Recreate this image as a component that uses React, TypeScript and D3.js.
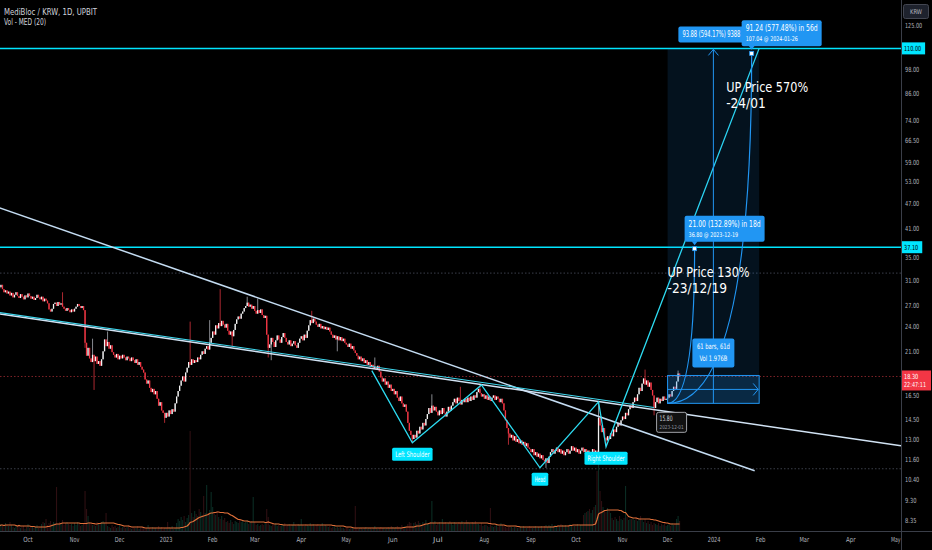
import React from 'react';
import * as d3 from 'd3';

// ---------------- DATA ----------------
const START_DATE = '2022-09-12';
const FIRST_OPEN = 29.6;

const CLOSES: number[] = [
  29.8, 30.2, 29.5, 29.0, 29.3, 28.8, 29.1,
  28.5, 28.9, 28.2, 28.6, 29.0, 28.4, 28.1, 28.7, 28.3, 27.9, 28.5, 28.2, 28.8, 28.4, 28.0, 28.3, 27.8, 28.1, 28.6, 28.2,
  27.9, 28.3, 27.6, 28.0, 27.7, 27.3, 26.4, 26.1, 26.5, 27.2, 27.4, 26.9, 27.5, 27.1,
  27.3, 26.8, 26.5, 26.2, 26.6, 26.3, 26.0, 26.4, 26.1, 26.5, 26.8, 27.2, 26.9, 26.6, 26.9, 26.3,
  22.0,
  20.5, 21.4, 20.2, 19.8, 20.6, 19.9, 20.4, 19.6,
  19.9, 19.4, 20.1,
  21.0, 22.4, 21.6, 22.1, 21.3, 21.7, 20.9, 20.6,
  20.3, 20.7, 20.1, 20.5, 20.2, 20.6, 20.3, 20.0, 20.4, 20.2, 19.9, 20.3, 20.0,
  19.7, 20.1, 19.5, 19.8, 19.3, 19.0, 18.7,
  18.0, 17.6, 17.9, 17.2,
  16.8, 17.1, 16.6, 16.9, 16.2,
  15.6, 15.9, 15.2, 15.0,
  14.6, 15.0, 14.7, 15.2, 14.9, 15.3, 15.1,
  15.8, 16.4, 16.9, 17.4,
  17.9, 18.3, 17.8, 18.7, 19.2,
  19.8, 19.5, 20.1, 19.7,
  20.0, 19.8, 20.3, 20.1, 20.6,
  21.0, 20.7, 21.3, 21.6, 21.2, 22.0,
  22.6, 23.4, 23.0, 24.2, 23.8,
  24.5, 24.1, 24.8, 24.3, 23.9, 24.4,
  23.5, 23.0, 23.4, 22.8,
  23.6, 24.4, 25.0, 25.4, 25.1, 25.8, 26.1,
  26.6, 26.9, 27.4, 26.8, 27.1, 26.5, 26.9,
  26.2, 25.8, 26.3, 25.9, 26.4, 25.6, 25.2, 25.5,
  23.0, 21.4, 21.8,
  22.6, 22.1, 21.5, 22.3, 22.9, 22.4, 22.0, 22.7, 23.2,
  22.6, 22.1, 21.8, 22.3, 21.6, 21.9, 22.2, 21.7, 21.4, 22.0, 22.5,
  22.8, 22.3, 23.0, 22.6, 23.5,
  24.2, 24.9, 24.5, 25.1, 24.7, 24.3,
  24.0, 24.4, 23.8, 24.1, 23.7, 24.0, 23.6, 23.9, 23.4,
  23.0, 22.6, 22.9, 22.4, 22.8, 22.3, 22.7, 22.2, 22.5, 22.0, 21.8,
  21.5, 21.9, 21.3, 21.6, 21.1, 20.8, 20.5,
  20.1, 20.4, 19.9, 20.2, 19.7, 20.0, 19.5, 19.8, 19.3, 19.5, 19.1,
  19.3, 19.0, 19.4, 18.8,
  18.2, 17.8, 18.1, 17.5, 17.8, 17.2, 17.5, 16.9, 17.1,
  16.6, 16.9, 16.3, 16.0, 16.4, 15.8, 15.5, 15.7, 15.1,
  14.2, 13.6, 13.3, 13.0,
  13.3, 13.1, 13.6, 13.4, 13.9, 13.7, 14.2, 14.0, 14.5, 14.9,
  15.4, 15.0, 15.6, 15.2, 15.5, 15.1,
  14.8, 15.2, 14.9, 15.4, 15.0, 14.7, 15.1, 15.5, 15.2, 15.6, 15.9,
  16.2, 15.8, 16.3, 16.0, 15.7, 16.1, 15.9,
  16.2, 15.9, 16.3, 16.0, 16.4, 16.1, 16.5, 16.3, 16.8,
  17.1, 16.7, 16.4, 16.6,
  16.2, 16.5, 16.1, 16.4, 16.0, 16.3, 16.5, 16.1, 16.4, 16.2, 15.9, 16.2, 15.8,
  15.2, 14.4, 13.8, 13.4, 13.1,
  13.3, 12.9, 13.2, 12.8, 13.0, 12.7, 12.9, 12.6, 12.8, 12.5, 12.7, 12.4, 12.3,
  12.1, 12.3, 11.9, 12.1, 11.8, 12.0, 11.7, 11.9, 11.6, 11.5, 11.7, 11.4,
  11.8, 12.1, 12.3, 12.0, 12.2, 12.4, 12.1, 12.3, 12.0, 12.2, 11.9, 12.1, 12.3, 12.0, 12.2, 12.5,
  12.2, 12.4, 12.1, 12.3, 12.0, 12.2, 12.4, 12.1, 12.3, 12.0, 12.2, 11.9, 12.1, 12.3, 12.0, 12.2, 12.1,
  14.6,
  14.0, 13.5, 13.8, 13.1, 12.9, 13.2,
  13.0, 13.4, 13.2, 13.7, 13.5, 13.9, 14.2, 14.0, 14.4, 14.7,
  14.5, 15.0, 14.8, 15.3, 15.6, 15.4, 15.9, 16.3, 16.0,
  16.6, 17.2, 16.9, 17.6, 18.1, 17.5, 17.9, 17.3, 17.7,
  17.0, 16.5, 15.4, 15.9, 16.3, 15.8, 16.2, 16.0, 16.4, 16.1, 16.2,
  16.3,
  16.6, 16.4, 16.9, 17.3, 17.1, 17.8, 18.6, 18.3,
];

const VOLUMES: number[] = [
  5, 7, 6, 4, 8, 6, 5, 9, 6, 4,
  3, 5, 4, 6, 3, 4, 5, 2, 4, 7, 3, 4, 5, 3, 4, 6, 3, 4,
  7, 9, 8, 12, 6, 8, 10, 7, 9, 8, 44, 7, 9, 8, 11, 6, 8, 9, 7,
  6, 7, 5, 8, 6, 9, 7, 5, 6, 8, 40, 22, 15, 9, 8, 6, 7, 5, 9,
  8, 7, 9, 10, 8, 18,
  5, 4, 3, 6, 4, 5, 3, 4, 7, 3, 4, 5, 3, 4, 6,
  3, 2, 4, 3, 3, 5, 2, 3, 4, 3, 2, 3, 6, 3, 2, 4, 3, 3, 2, 5, 3, 4, 2, 3, 3, 9, 4, 3, 5, 2, 3,
  8, 12, 10, 14, 11, 15, 9, 13, 16, 100, 18, 14, 20, 17, 15, 22, 19, 16, 35, 18,
  46, 18, 21, 39, 24, 19, 16, 20,
  14, 12, 15, 11, 13,
  9, 10, 8, 11, 9, 7, 10, 9, 8, 12, 9, 10, 8, 9, 11, 7, 9, 10, 34, 9,
  6, 7, 5, 6, 7, 6, 8, 22, 14, 6, 5, 7, 6, 8, 5,
  6, 5, 7, 6, 8, 5, 6, 7, 5, 6, 9, 6, 5, 7, 6, 12, 6, 5, 7, 6, 5, 8, 6, 7, 5, 6, 7, 5, 6, 8, 5, 6,
  5, 4, 5, 3, 4, 5, 3, 4, 3, 4, 3,
  3, 2, 3, 4, 2, 3, 3, 2, 25, 3, 2, 3, 3, 2, 3, 4, 2, 3, 3, 2, 3, 5, 3, 2, 3, 4, 3, 3, 2, 3,
  4, 3, 5, 4, 3, 4, 5, 4, 3, 6, 4, 5, 4, 7, 9, 8, 5,
  8, 9, 7, 10, 8, 6, 9, 8, 11, 7, 8, 9, 30, 8, 10, 6, 8, 9, 7, 12, 8, 9, 7, 8, 10, 8, 6, 9, 8, 7, 9, 8, 10, 7, 8, 11, 9, 8, 7, 9, 8, 10, 7,
  7, 6, 8, 5, 6, 6, 5, 4, 23, 5, 4, 5, 6, 4, 5,
  8, 6, 5, 4, 3, 4, 5, 4, 3, 4, 5, 3, 4, 4, 3, 5, 4, 3, 4, 5, 4, 3, 4, 5, 3, 4, 4, 5, 3,
  5, 6, 4, 6, 5, 7, 5, 6, 4, 6, 5, 7, 6, 5, 6, 4, 6, 7, 5, 6, 5, 6, 7, 5, 6, 6,
  16, 18, 19, 20, 22, 18, 21, 24, 26, 60, 85, 40, 30, 24, 21, 19, 23, 20, 18,
  13, 11, 14, 12, 10, 15, 12, 11, 13, 45, 14, 11, 12,
  12, 13, 11, 14, 10, 12, 15, 11, 9, 12, 8, 10, 7, 9, 6, 8,
  7, 6, 8, 5, 7, 6, 9, 5, 6, 7, 5, 8, 6, 7, 12, 15, 10,
];

// notable wicks: [date, high, low]
const WICKS: [string, number | null, number | null][] = [
  ['2022-09-12', 30.8, 29.2],
  ['2022-10-24', 29.0, null],
  ['2022-11-08', null, 21.4],
  ['2022-11-13', 22.5, null],
  ['2022-11-14', null, 17.0],
  ['2022-11-23', 23.4, null],
  ['2022-12-31', null, 14.2],
  ['2023-01-17', 24.7, null],
  ['2023-01-30', 24.9, null],
  ['2023-02-06', 29.5, null],
  ['2023-02-14', null, 21.6],
  ['2023-02-24', 28.3, null],
  ['2023-03-03', 28.0, null],
  ['2023-03-10', null, 20.3],
  ['2023-03-12', null, 20.0],
  ['2023-04-08', 26.2, null],
  ['2023-04-25', null, 21.0],
  ['2023-05-20', 20.3, null],
  ['2023-06-14', null, 12.8],
  ['2023-06-27', 16.6, null],
  ['2023-07-16', 17.3, null],
  ['2023-07-29', 17.6, null],
  ['2023-08-17', null, 12.6],
  ['2023-09-11', null, 11.1],
  ['2023-10-16', 16.0, 11.9],
  ['2023-10-21', null, 12.5],
  ['2023-11-16', 19.0, null],
  ['2023-11-22', null, 14.8],
  ['2023-12-01', null, 15.8],
  ['2023-12-08', 18.9, null],
];

const PRICE_TICKS = [125, 98, 86, 74, 66.5, 59, 53, 47, 41, 35, 31, 27, 24, 21, 16.5, 14.5, 13, 11.6, 10.4, 9.3, 8.35];
const MONTH_TICKS = ['2022-10-01', '2022-11-01', '2022-12-01', '2023-01-01', '2023-02-01', '2023-03-01', '2023-04-01',
  '2023-05-01', '2023-06-01', '2023-07-01', '2023-08-01', '2023-09-01', '2023-10-01', '2023-11-01', '2023-12-01',
  '2024-01-01', '2024-02-01', '2024-03-01', '2024-04-01', '2024-05-01'];
const CYAN_LEVELS = [110, 37.1];
const DOTTED_LEVELS = [32.2, 11.05];
const LAST_PRICE = 18.3;
const LAST_LABEL = '18.30';
const COUNTDOWN = '22:47:11';

const TRENDLINES: { a: [string, number]; b: [string, number]; color: string; extend: boolean }[] = [
  { a: ['2022-09-12', 46.0], b: ['2024-01-28', 10.93], color: '#c4dcf2', extend: false },
  { a: ['2022-09-12', 25.76], b: ['2024-05-04', 12.53], color: '#d2e3f4', extend: true },
];
const NECKLINE: [string, number][] = [['2022-09-12', 25.95], ['2023-11-22', 15.45]];
const HS_POINTS: [string, number][] = [
  ['2023-05-18', 18.9], ['2023-06-14', 12.74], ['2023-07-30', 17.47], ['2023-09-07', 11.11],
  ['2023-10-16', 15.93], ['2023-10-21', 12.46], ['2024-01-31', 110],
];
const HS_LABELS: [string, number, string][] = [
  ['2023-06-14', 12.74, 'Left Shoulder'],
  ['2023-09-07', 11.11, 'Head'],
  ['2023-10-21', 12.46, 'Right Shoulder'],
];

const PROJ_ANCHOR = { date: '2023-12-01', price: 15.8, text: '15.80', sub: '2023-12-01' };
const PROJ_TARGETS = [
  { date: '2023-12-19', price: 36.8, main: '21.00 (132.89%) in 18d', sub: '36.80 @ 2023-12-19' },
  { date: '2024-01-26', price: 107.04, main: '91.24 (577.48%) in 56d', sub: '107.04 @ 2024-01-26' },
];
const PRICE_RANGE = { from: '2023-12-01', to: '2024-01-31', low: 15.8, high: 110, text: '93.88 (594.17%) 9388' };
const DATE_RANGE = { from: '2023-12-01', to: '2024-01-31', low: 15.8, high: 18.4, bars: '61 bars, 61d', vol: 'Vol 1.976B' };
const NOTES = [
  { date: '2024-01-09', price: 93.6, lines: ['UP Price 570%', '-24/01'] },
  { date: '2023-12-01', price: 34.05, lines: ['UP Price 130%', '-23/12/19'] },
];

// ---------------- CHART ----------------
const FONT = "'Liberation Sans Narrow','DejaVu Sans Condensed','Liberation Sans',Arial,sans-serif";
const W = 932;
const H = 550;
const PR = 901;
const PB = 531;

function T(props: any) {
  const { w, children, ...rest } = props;
  return (
    <text textLength={w} lengthAdjust="spacingAndGlyphs" {...rest}>
      {children}
    </text>
  );
}

export default function App() {
  const parse = (s: string) => d3.utcParse('%Y-%m-%d')(s) as Date;
  const fmt = d3.utcFormat('%Y-%m-%d');
  const start = parse(START_DATE);

  const x = d3.scaleUtc().domain([parse('2022-10-01'), parse('2023-10-01')]).range([28, 576]);
  const y = d3.scaleLog().domain([125, 8.35]).range([25, 520]);
  const yv = d3.scaleLinear().domain([0, 100]).range([PB, PB - 100]);

  const wickMap = new Map(WICKS.map((w) => [w[0], w]));
  const candles = CLOSES.map((close, i) => {
    const date = d3.utcDay.offset(start, i);
    const open = i === 0 ? FIRST_OPEN : CLOSES[i - 1];
    const w = wickMap.get(fmt(date));
    const high = Math.max(open, close, w && w[1] != null ? (w[1] as number) : 0);
    const low = Math.min(open, close, w && w[2] != null ? (w[2] as number) : Infinity);
    return { date, open, close, high, low, vol: VOLUMES[i] ?? 0 };
  });
  const med = candles.map((_, i) => d3.median(VOLUMES.slice(Math.max(0, i - 19), i + 1)) as number);
  const medLine = d3
    .line<number>()
    .x((_, i) => x(candles[i].date))
    .y((m) => yv(m))(med);

  const pt = (p: [string, number]) => [x(parse(p[0])), y(p[1])] as [number, number];

  const lineSeg = (a: [number, number], b: [number, number], extend: boolean) => {
    const slope = (b[1] - a[1]) / (b[0] - a[0]);
    const x0 = -2;
    const x1 = extend ? PR : b[0];
    return { x1: x0, y1: a[1] + (x0 - a[0]) * slope, x2: x1, y2: a[1] + (x1 - a[0]) * slope };
  };

  const monthLabel = (d: Date) => (d.getUTCMonth() === 0 ? d3.utcFormat('%Y')(d) : d3.utcFormat('%b')(d));
  const tickFmt = (v: number) => v.toFixed(2);
  const axW = (s: string) => s.length * 2.85;

  const blue = '#2196f3';
  const cyan = '#00e5ff';

  const ax = x(parse(PROJ_ANCHOR.date));
  const ay = y(PROJ_ANCHOR.price);
  const rx0 = x(parse(PRICE_RANGE.from));
  const rx1 = x(parse(PRICE_RANGE.to));
  const ryTop = y(PRICE_RANGE.high);
  const ryBot = y(PRICE_RANGE.low);
  const rMid = (rx0 + rx1) / 2;
  const dTop = y(DATE_RANGE.high);
  const dBot = y(DATE_RANGE.low);
  const dMid = (dTop + dBot) / 2;
  const dx0 = x(parse(DATE_RANGE.from));
  const dx1 = x(parse(DATE_RANGE.to));

  const neck = lineSeg(pt(NECKLINE[0]), pt(NECKLINE[1]), false);

  return (
    <div style={{ position: 'fixed', left: 0, top: 0, width: W, height: H, background: '#000' }}>
      <svg width={W} height={H} style={{ display: 'block', fontFamily: FONT }}>
        <defs>
          <clipPath id="plot">
            <rect x={0} y={0} width={PR} height={PB} />
          </clipPath>
        </defs>
        <rect x={0} y={0} width={W} height={H} fill="#000" />

        <g clipPath="url(#plot)">
          {DOTTED_LEVELS.map((p) => (
            <line key={p} x1={0} x2={PR} y1={y(p)} y2={y(p)} stroke="#3b3f4a" strokeWidth={1} strokeDasharray="1.5,2" />
          ))}
          <line x1={0} x2={PR} y1={y(LAST_PRICE)} y2={y(LAST_PRICE)} stroke="#7d2228" strokeWidth={1} strokeDasharray="1.5,2" />

          {/* volume */}
          {candles.map((c, i) => (
            <rect
              key={'v' + i}
              x={x(c.date) - 0.55}
              width={1.1}
              y={yv(c.vol)}
              height={PB - yv(c.vol)}
              fill={c.close >= c.open ? '#0a2c23' : '#2e0f12'}
            />
          ))}
          <path d={medLine || ''} fill="none" stroke="#e0703a" strokeWidth={1.2} />

          {/* candles */}
          {candles.map((c, i) => {
            const up = c.close >= c.open;
            const cx = x(c.date);
            const yo = y(c.open);
            const yc = y(c.close);
            const top = Math.min(yo, yc);
            const h = Math.max(0.8, Math.abs(yo - yc));
            return (
              <g key={'c' + i}>
                <line x1={cx} x2={cx} y1={y(c.high)} y2={y(c.low)} stroke={up ? '#a8abb3' : '#d8343d'} strokeWidth={0.8} />
                <rect x={cx - 0.65} width={1.3} y={top} height={h} fill={up ? '#f2f2f2' : '#f23645'} />
              </g>
            );
          })}

          {CYAN_LEVELS.map((p) => (
            <line key={p} x1={0} x2={PR} y1={y(p)} y2={y(p)} stroke={cyan} strokeWidth={1.5} />
          ))}

          {TRENDLINES.map((t, i) => {
            const s = lineSeg(pt(t.a), pt(t.b), t.extend);
            return <line key={'t' + i} {...s} stroke={t.color} strokeWidth={1.5} />;
          })}
          <line {...neck} stroke="#3fd8ef" strokeWidth={1.1} />
          <polyline
            points={HS_POINTS.map((p) => pt(p).join(',')).join(' ')}
            fill="none"
            stroke="#2ddcf2"
            strokeWidth={1.3}
          />

          {/* projection: shaded price range */}
          <rect x={rx0} y={ryTop} width={rx1 - rx0} height={ryBot - ryTop} fill="rgba(33,150,243,0.12)" />
          <line x1={rMid} x2={rMid} y1={ryBot} y2={ryTop} stroke={blue} strokeWidth={1} />
          <path d={`M${rMid - 5},${ryTop + 7} L${rMid},${ryTop + 1} L${rMid + 5},${ryTop + 7}`} fill="none" stroke={blue} strokeWidth={1} />

          {/* date range */}
          <rect x={dx0} y={dTop} width={dx1 - dx0} height={dBot - dTop} fill="rgba(33,150,243,0.18)" stroke={blue} strokeWidth={1} />
          <line x1={dx0} x2={dx1 - 1} y1={dMid} y2={dMid} stroke={blue} strokeWidth={1} />
          <path d={`M${dx1 - 6},${dMid - 6} L${dx1 - 1},${dMid} L${dx1 - 6},${dMid + 6}`} fill="none" stroke={blue} strokeWidth={1} />

          {PROJ_TARGETS.map((t, i) => {
            const tx = x(parse(t.date));
            const ty = y(t.price);
            return (
              <path key={'cv' + i} d={`M${ax},${ay} Q${tx},${ay} ${tx},${ty}`} fill="none" stroke={blue} strokeWidth={1.2} />
            );
          })}
        </g>

        {/* notes */}
        {NOTES.map((n, i) => {
          const nx = x(parse(n.date));
          const ny = y(n.price);
          return (
            <g key={'n' + i}>
              {n.lines.map((l, j) => (
                <T key={j} x={nx} y={ny + 14 + j * 16} w={j === 0 ? 82 : l.length * 6.6} fill="#ffffff" fontSize={14}>
                  {l}
                </T>
              ))}
            </g>
          );
        })}

        {/* price range label */}
        <rect x={rMid - 35} y={ryTop - 22} width={70} height={16} rx={2} fill={blue} />
        <T x={rMid - 31} y={ryTop - 11} w={58} fill="#fff" fontSize={8}>
          {PRICE_RANGE.text}
        </T>

        {/* target labels */}
        {PROJ_TARGETS.map((t, i) => {
          const tx = x(parse(t.date));
          const ty = y(t.price);
          const bx = tx - 10;
          const by = ty - 33;
          return (
            <g key={'tl' + i}>
              <rect x={bx} y={by} width={80} height={26} rx={2} fill={blue} />
              <path d={`M${tx - 3},${ty - 7.5} L${tx + 3},${ty - 7.5} L${tx},${ty - 3.5} Z`} fill={blue} />
              <T x={bx + 4} y={by + 11} w={72} fill="#fff" fontSize={8.5}>
                {t.main}
              </T>
              <T x={bx + 4} y={by + 21} w={t.sub.length * 2.75} fill="#fff" fontSize={6.5}>
                {t.sub}
              </T>
              <rect x={tx - 2} y={ty - 2} width={4} height={4} fill="#fff" stroke={blue} strokeWidth={0.8} />
            </g>
          );
        })}

        {/* date range label */}
        <rect x={rMid - 21} y={dTop - 37} width={42} height={29} rx={2} fill={blue} />
        <T x={rMid - 16.5} y={dTop - 26} w={33} fill="#fff" fontSize={7.5}>
          {DATE_RANGE.bars}
        </T>
        <T x={rMid - 14} y={dTop - 14} w={28} fill="#fff" fontSize={7.5}>
          {DATE_RANGE.vol}
        </T>

        {/* anchor label */}
        <rect x={ax - 11} y={ay + 9} width={30} height={20} rx={2} fill="#111" stroke="#c8cad0" strokeWidth={0.8} />
        <T x={ax - 8} y={ay + 18} w={13} fill="#d1d4dc" fontSize={7.5}>
          {PROJ_ANCHOR.text}
        </T>
        <T x={ax - 8} y={ay + 26} w={24} fill="#9598a1" fontSize={5.5}>
          {PROJ_ANCHOR.sub}
        </T>

        {/* head & shoulders labels */}
        {HS_LABELS.map(([d, p, t], i) => {
          const lx = x(parse(d));
          const ly = y(p) + 5;
          const tw = t.length * 2.65;
          const w = tw + 6;
          return (
            <g key={'hs' + i}>
              <rect x={lx - w / 2} y={ly} width={w} height={13} rx={1.5} fill={cyan} />
              <T x={lx - tw / 2} y={ly + 9.5} w={tw} fill="#fff" fontSize={7.5}>
                {t}
              </T>
            </g>
          );
        })}

        {/* axes */}
        <line x1={PR + 0.5} x2={PR + 0.5} y1={0} y2={H} stroke="#3a3e48" strokeWidth={1} />
        <line x1={0} x2={W} y1={PB + 0.5} y2={PB + 0.5} stroke="#3a3e48" strokeWidth={1} />
        {PRICE_TICKS.map((v) => (
          <T key={'pt' + v} x={905} y={y(v) + 2.5} w={axW(tickFmt(v))} fill="#b2b5be" fontSize={7}>
            {tickFmt(v)}
          </T>
        ))}
        {CYAN_LEVELS.map((v) => (
          <g key={'cl' + v}>
            <rect x={PR + 1} y={y(v) - 6} width={axW(tickFmt(v)) + 6} height={12} fill={cyan} />
            <T x={904} y={y(v) + 2.5} w={axW(tickFmt(v))} fill="#000" fontSize={7}>
              {tickFmt(v)}
            </T>
          </g>
        ))}
        <rect x={PR + 1} y={y(LAST_PRICE) - 6} width={29} height={20} fill="#f23645" />
        <T x={904} y={y(LAST_PRICE) + 2.5} w={axW(LAST_LABEL)} fill="#fff" fontSize={7}>
          {LAST_LABEL}
        </T>
        <T x={904} y={y(LAST_PRICE) + 11} w={COUNTDOWN.length * 2.75} fill="#fff" fontSize={7}>
          {COUNTDOWN}
        </T>

        {MONTH_TICKS.map((m) => {
          const d = parse(m);
          const s = monthLabel(d);
          return (
            <T key={m} x={x(d) - (s.length * 3.2) / 2} y={542} w={s.length * 3.2} fill="#b2b5be" fontSize={7}>
              {s}
            </T>
          );
        })}

        {/* header */}
        <T x={4} y={15} w={93} fill="#d1d4dc" fontSize={8}>
          MediBloc / KRW, 1D, UPBIT
        </T>
        <T x={4} y={25} w={42} fill="#d1d4dc" fontSize={8}>
          Vol - MED (20)
        </T>
        <rect x={903.5} y={4.5} width={25} height={14} rx={2} fill="#1e222d" stroke="#434651" strokeWidth={1} />
        <T x={910} y={14} w={12} fill="#b2b5be" fontSize={6.5}>
          KRW
        </T>
      </svg>
    </div>
  );
}
